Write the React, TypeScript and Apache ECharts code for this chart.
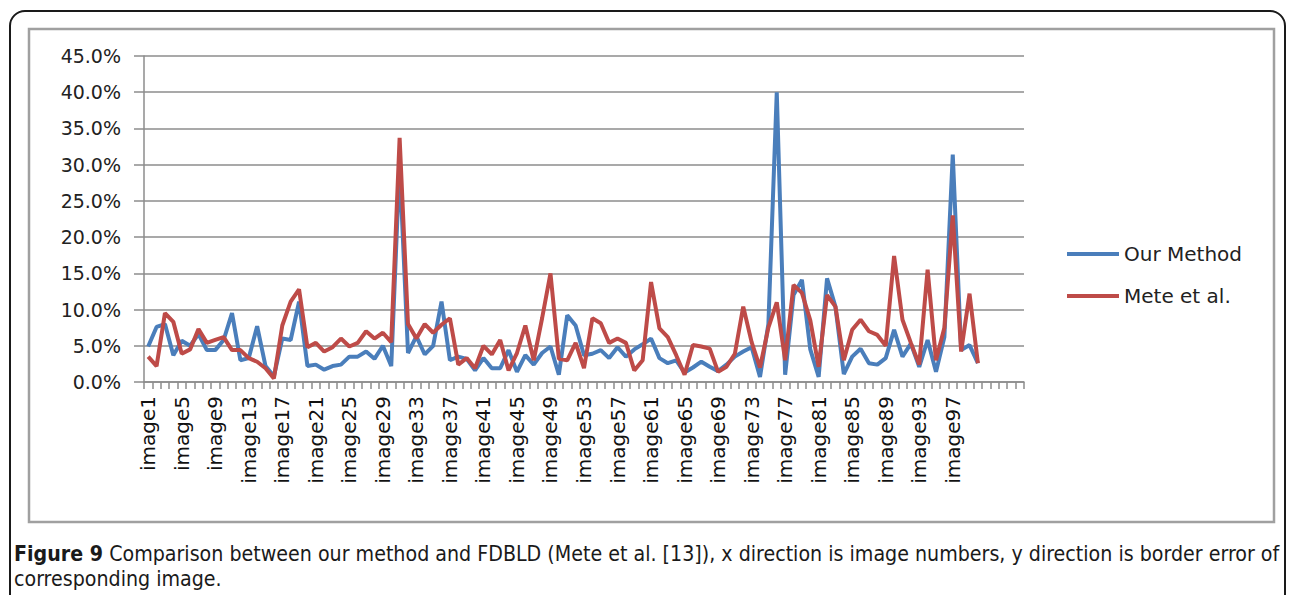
import React, { useEffect, useRef } from "react";
import * as echarts from "echarts";

// ---- data (border error in %) ----
const imageNames: string[] = Array.from({ length: 100 }, (_, i) => `image${i + 1}`);
const blankCategories: string[] = ["", "", "", "", ""];
const categories: string[] = [...imageNames, ...blankCategories];

const ourMethod: number[] = [
  4.9, 7.6, 8.0, 3.7, 5.7, 5.0, 6.6, 4.4, 4.4, 5.8,
  9.5, 3.0, 3.3, 7.7, 2.2, 0.8, 6.0, 5.8, 11.1, 2.2,
  2.4, 1.7, 2.2, 2.4, 3.5, 3.5, 4.2, 3.2, 5.0, 2.2,
  30.0, 4.0, 6.3, 3.8, 5.0, 11.1, 3.0, 3.5, 3.2, 1.6,
  3.3, 1.9, 1.9, 4.4, 1.4, 3.7, 2.4, 4.0, 4.9, 1.0,
  9.2, 7.8, 3.7, 3.9, 4.4, 3.3, 4.8, 3.5, 4.5, 5.2,
  6.0, 3.3, 2.6, 3.0, 1.3, 2.0, 2.8, 2.1, 1.5, 2.4,
  3.5, 4.2, 4.8, 0.7, 8.0, 40.0, 1.0, 12.0, 14.1, 4.5,
  0.7, 14.3, 10.4, 1.1, 3.5, 4.6, 2.6, 2.4, 3.3, 7.2,
  3.5, 5.3, 2.1, 5.8, 1.4, 6.2, 31.4, 4.4, 5.1, 2.6,
];

const meteEtAl: number[] = [
  3.5, 2.2, 9.5, 8.3, 3.9, 4.5, 7.3, 5.4, 5.8, 6.2,
  4.4, 4.4, 3.3, 2.8, 1.9, 0.5, 7.8, 11.1, 12.8, 4.8,
  5.4, 4.2, 4.8, 6.0, 4.9, 5.4, 7.0, 6.0, 6.8, 5.5,
  33.7, 8.0, 6.0, 8.0, 6.8, 7.9, 8.8, 2.4, 3.3, 1.9,
  5.0, 3.8, 5.8, 1.6, 4.0, 7.8, 3.0, 8.8, 15.0, 3.2,
  3.0, 5.4, 1.9, 8.8, 8.1, 5.4, 6.0, 5.4, 1.6, 3.0,
  13.8, 7.4, 6.2, 3.7, 1.0, 5.1, 4.9, 4.6, 1.4, 2.1,
  3.9, 10.4, 5.5, 2.0, 7.5, 11.0, 3.0, 13.4, 12.3, 8.5,
  2.1, 12.0, 10.4, 3.0, 7.2, 8.6, 7.0, 6.5, 5.0, 17.4,
  8.6, 5.4, 2.4, 15.5, 3.0, 7.5, 23.0, 4.2, 12.2, 2.6,
];

const seriesNames: string[] = ["Our Method", "Mete et al."];
const yTicks = { min: 0, max: 45, interval: 5 };

const captionBold = "Figure 9";
const captionLine1Rest =
  " Comparison between our method and FDBLD (Mete et al. [13]), x direction is image numbers, y direction is border error of";
const captionLine2 = "corresponding image.";

const BLUE = "#4a7ebb";
const RED = "#be4b48";
const GRID_GRAY = "#8c8c8c";

export default function App() {
  const ref = useRef<HTMLDivElement>(null);

  useEffect(() => {
    const el = ref.current;
    if (!el) return;
    const chart = echarts.init(el, null, { renderer: "svg" });

    const capSize = 21;
    const capFont = "'Liberation Sans Narrow', 'DejaVu Sans Condensed', 'Liberation Sans', sans-serif";
    let sx = 1;
    try {
      const canvas = document.createElement("canvas");
      const ctx = canvas.getContext("2d");
      if (ctx) {
        ctx.font = `bold ${capSize}px ${capFont}`;
        const wb = ctx.measureText(captionBold).width;
        ctx.font = `${capSize}px ${capFont}`;
        const wr = ctx.measureText(captionLine1Rest).width;
        if (wb + wr > 0) sx = 1266 / (wb + wr);
      }
    } catch (e) {
      sx = 1;
    }

    const option: any = {
      animation: false,
      backgroundColor: "#ffffff",
      grid: { left: 144, top: 56, width: 880, height: 326, containLabel: false },
      legend: {
        orient: "vertical",
        left: 1062,
        top: 239,
        itemWidth: 52,
        itemHeight: 4,
        itemGap: 22,
        textStyle: { fontFamily: "DejaVu Sans", fontSize: 20, color: "#222" },
        data: [
          { name: seriesNames[0], icon: "rect", itemStyle: { color: BLUE } },
          { name: seriesNames[1], icon: "rect", itemStyle: { color: RED } },
        ],
      },
      xAxis: {
        type: "category",
        data: categories,
        boundaryGap: true,
        axisLine: { show: true, lineStyle: { color: GRID_GRAY, width: 1.5 } },
        axisTick: { show: true, interval: 0, length: 7, lineStyle: { color: GRID_GRAY, width: 1.5 } },
        axisLabel: {
          interval: 3,
          rotate: 90,
          margin: 14,
          fontFamily: "DejaVu Sans",
          fontSize: 20,
          color: "#111",
        },
        splitLine: { show: false },
      },
      yAxis: {
        type: "value",
        min: yTicks.min,
        max: yTicks.max,
        interval: yTicks.interval,
        axisLine: { show: true, lineStyle: { color: GRID_GRAY, width: 1.5 } },
        axisTick: { show: true, length: 10, lineStyle: { color: GRID_GRAY, width: 1.5 } },
        axisLabel: {
          margin: 23,
          fontFamily: "DejaVu Sans",
          fontSize: 19,
          color: "#222",
          formatter: (v: number) => `${v.toFixed(1)}%`,
        },
        splitLine: { show: true, lineStyle: { color: GRID_GRAY, width: 1.5 } },
      },
      series: [
        {
          name: seriesNames[0],
          type: "line",
          data: ourMethod,
          symbol: "none",
          lineStyle: { color: BLUE, width: 4 },
          itemStyle: { color: BLUE },
        },
        {
          name: seriesNames[1],
          type: "line",
          data: meteEtAl,
          symbol: "none",
          lineStyle: { color: RED, width: 4 },
          itemStyle: { color: RED },
        },
      ],
      graphic: [
        {
          type: "rect",
          silent: true,
          shape: { x: 10, y: 11, width: 1275, height: 660, r: 15 },
          style: { fill: "none", stroke: "#1a1a1a", lineWidth: 2 },
        },
        {
          type: "rect",
          silent: true,
          shape: { x: 29, y: 29, width: 1245, height: 493 },
          style: { fill: "none", stroke: "#a0a0a0", lineWidth: 2.5 },
        },
        {
          type: "text",
          silent: true,
          x: 14,
          y: 554,
          scaleX: sx,
          style: {
            text: `{b|${captionBold}}${captionLine1Rest}`,
            fontFamily: capFont,
            fontSize: capSize,
            fill: "#1a1a1a",
            verticalAlign: "middle",
            rich: {
              b: { fontFamily: capFont, fontSize: capSize, fontWeight: "bold", fill: "#1a1a1a" },
            },
          },
        },
        {
          type: "text",
          silent: true,
          x: 14,
          y: 579,
          scaleX: sx,
          style: {
            text: captionLine2,
            fontFamily: capFont,
            fontSize: capSize,
            fill: "#1a1a1a",
            verticalAlign: "middle",
          },
        },
      ],
    };

    chart.setOption(option);
    return () => {
      chart.dispose();
    };
  }, []);

  return (
    <div style={{ position: "absolute", left: 0, top: 0, width: 1292, height: 595, background: "#fff" }}>
      <div ref={ref} style={{ width: 1292, height: 595 }} />
    </div>
  );
}
